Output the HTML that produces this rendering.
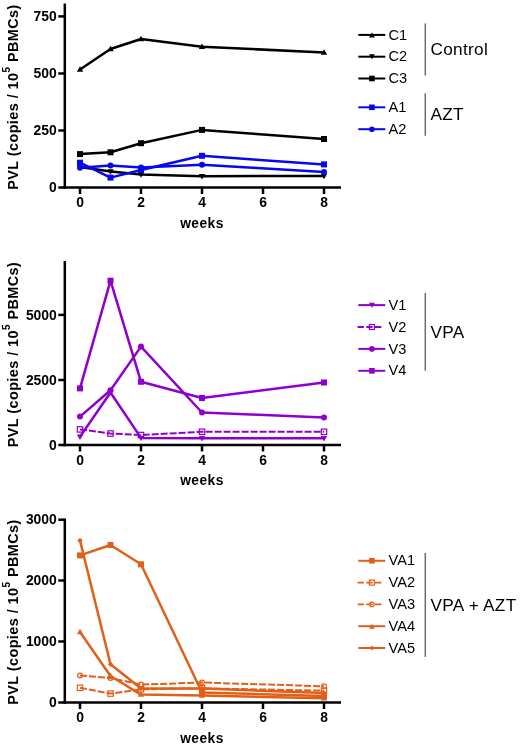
<!DOCTYPE html>
<html><head><meta charset="utf-8"><style>
html,body{margin:0;padding:0;background:#fff;}
body{width:520px;height:745px;overflow:hidden;}
svg{display:block;filter:blur(0.3px);}
text{font-family:"Liberation Sans", sans-serif;fill:#000;}
.tk{font-size:13.9px;font-weight:bold;}
.wk{font-size:13.8px;font-weight:bold;letter-spacing:0.45px;}
.yt{font-size:14.4px;font-weight:bold;letter-spacing:0.45px;}
.sup{font-size:10px;}
.lg{font-size:14.6px;}
.gp{font-size:17.2px;letter-spacing:0.3px;}
</style></head><body>
<svg width="520" height="745" viewBox="0 0 520 745">
<rect width="520" height="745" fill="#fff"/>
<line x1="64.8" y1="3.5" x2="64.8" y2="188.75" stroke="#000" stroke-width="2.5"/>
<line x1="63.55" y1="187.5" x2="341" y2="187.5" stroke="#000" stroke-width="2.5"/>
<line x1="80.0" y1="187.5" x2="80.0" y2="194.0" stroke="#000" stroke-width="2.5"/>
<text x="80.0" y="207.4" class="tk" text-anchor="middle">0</text>
<line x1="141.0" y1="187.5" x2="141.0" y2="194.0" stroke="#000" stroke-width="2.5"/>
<text x="141.0" y="207.4" class="tk" text-anchor="middle">2</text>
<line x1="202.0" y1="187.5" x2="202.0" y2="194.0" stroke="#000" stroke-width="2.5"/>
<text x="202.0" y="207.4" class="tk" text-anchor="middle">4</text>
<line x1="263.0" y1="187.5" x2="263.0" y2="194.0" stroke="#000" stroke-width="2.5"/>
<text x="263.0" y="207.4" class="tk" text-anchor="middle">6</text>
<line x1="324.0" y1="187.5" x2="324.0" y2="194.0" stroke="#000" stroke-width="2.5"/>
<text x="324.0" y="207.4" class="tk" text-anchor="middle">8</text>
<line x1="58.3" y1="16.4" x2="64.8" y2="16.4" stroke="#000" stroke-width="2.5"/>
<text x="56.8" y="21.099999999999998" class="tk" text-anchor="end">750</text>
<line x1="58.3" y1="73.5" x2="64.8" y2="73.5" stroke="#000" stroke-width="2.5"/>
<text x="56.8" y="78.2" class="tk" text-anchor="end">500</text>
<line x1="58.3" y1="130.5" x2="64.8" y2="130.5" stroke="#000" stroke-width="2.5"/>
<text x="56.8" y="135.2" class="tk" text-anchor="end">250</text>
<line x1="58.3" y1="187.5" x2="64.8" y2="187.5" stroke="#000" stroke-width="2.5"/>
<text x="56.8" y="192.2" class="tk" text-anchor="end">0</text>
<text x="202" y="227.6" class="wk" text-anchor="middle">weeks</text>
<text transform="translate(17.8,97.0) rotate(-90)" class="yt" text-anchor="middle">PVL (copies / 10<tspan class="sup" dy="-7.5">5</tspan><tspan dy="7.5"> PBMCs)</tspan></text>
<path d="M80.00,167.00 L110.50,171.50 L141.00,174.50 L202.00,176.20 L324.00,176.00" fill="none" stroke="#000000" stroke-width="2.5" stroke-linejoin="round"/>
<path d="M80.00,170.18 L83.18,164.77 L76.82,164.77Z" fill="#000000"/>
<path d="M110.50,174.68 L113.68,169.27 L107.32,169.27Z" fill="#000000"/>
<path d="M141.00,177.68 L144.18,172.27 L137.82,172.27Z" fill="#000000"/>
<path d="M202.00,179.38 L205.18,173.97 L198.82,173.97Z" fill="#000000"/>
<path d="M324.00,179.18 L327.18,173.77 L320.82,173.77Z" fill="#000000"/>
<path d="M80.00,154.10 L110.50,152.30 L141.00,143.20 L202.00,129.90 L324.00,139.00" fill="none" stroke="#000000" stroke-width="2.5" stroke-linejoin="round"/>
<rect x="77.00" y="151.10" width="6.00" height="6.00" fill="#000000"/>
<rect x="107.50" y="149.30" width="6.00" height="6.00" fill="#000000"/>
<rect x="138.00" y="140.20" width="6.00" height="6.00" fill="#000000"/>
<rect x="199.00" y="126.90" width="6.00" height="6.00" fill="#000000"/>
<rect x="321.00" y="136.00" width="6.00" height="6.00" fill="#000000"/>
<path d="M80.00,69.50 L110.50,49.00 L141.00,39.00 L202.00,46.70 L324.00,52.50" fill="none" stroke="#000000" stroke-width="2.5" stroke-linejoin="round"/>
<path d="M80.00,66.32 L83.18,71.73 L76.82,71.73Z" fill="#000000"/>
<path d="M110.50,45.82 L113.68,51.23 L107.32,51.23Z" fill="#000000"/>
<path d="M141.00,35.82 L144.18,41.23 L137.82,41.23Z" fill="#000000"/>
<path d="M202.00,43.52 L205.18,48.93 L198.82,48.93Z" fill="#000000"/>
<path d="M324.00,49.32 L327.18,54.73 L320.82,54.73Z" fill="#000000"/>
<path d="M80.00,162.70 L110.50,177.60 L141.00,170.00 L202.00,155.80 L324.00,164.40" fill="none" stroke="#0808ec" stroke-width="2.5" stroke-linejoin="round"/>
<rect x="77.00" y="159.70" width="6.00" height="6.00" fill="#0808ec"/>
<rect x="107.50" y="174.60" width="6.00" height="6.00" fill="#0808ec"/>
<rect x="138.00" y="167.00" width="6.00" height="6.00" fill="#0808ec"/>
<rect x="199.00" y="152.80" width="6.00" height="6.00" fill="#0808ec"/>
<rect x="321.00" y="161.40" width="6.00" height="6.00" fill="#0808ec"/>
<path d="M80.00,167.70 L110.50,165.60 L141.00,167.60 L202.00,164.70 L324.00,171.90" fill="none" stroke="#0808ec" stroke-width="2.5" stroke-linejoin="round"/>
<circle cx="80.00" cy="167.70" r="3.00" fill="#0808ec"/>
<circle cx="110.50" cy="165.60" r="3.00" fill="#0808ec"/>
<circle cx="141.00" cy="167.60" r="3.00" fill="#0808ec"/>
<circle cx="202.00" cy="164.70" r="3.00" fill="#0808ec"/>
<circle cx="324.00" cy="171.90" r="3.00" fill="#0808ec"/>
<line x1="358.3" y1="34.9" x2="385.3" y2="34.9" stroke="#000000" stroke-width="2.0"/>
<path d="M371.90,32.43 L374.87,37.48 L368.93,37.48Z" fill="#000000"/>
<text x="388.5" y="39.5" class="lg">C1</text>
<line x1="358.3" y1="56.7" x2="385.3" y2="56.7" stroke="#000000" stroke-width="2.0"/>
<path d="M371.90,59.37 L374.87,54.32 L368.93,54.32Z" fill="#000000"/>
<text x="388.5" y="61.300000000000004" class="lg">C2</text>
<line x1="358.3" y1="78.5" x2="385.3" y2="78.5" stroke="#000000" stroke-width="2.0"/>
<rect x="369.10" y="75.70" width="5.60" height="5.60" fill="#000000"/>
<text x="388.5" y="83.1" class="lg">C3</text>
<line x1="425.3" y1="23.4" x2="425.3" y2="75.6" stroke="#6c6c6c" stroke-width="1.5"/>
<text x="430.5" y="55.4" class="gp">Control</text>
<line x1="358.3" y1="107.3" x2="385.3" y2="107.3" stroke="#0808ec" stroke-width="2.0"/>
<rect x="369.10" y="104.50" width="5.60" height="5.60" fill="#0808ec"/>
<text x="388.5" y="111.89999999999999" class="lg">A1</text>
<line x1="358.3" y1="129.2" x2="385.3" y2="129.2" stroke="#0808ec" stroke-width="2.0"/>
<circle cx="371.90" cy="129.20" r="2.80" fill="#0808ec"/>
<text x="388.5" y="133.79999999999998" class="lg">A2</text>
<line x1="425.3" y1="93.3" x2="425.3" y2="135.8" stroke="#6c6c6c" stroke-width="1.5"/>
<text x="430.5" y="120.3" class="gp">AZT</text>
<line x1="64.8" y1="261.0" x2="64.8" y2="446.25" stroke="#000" stroke-width="2.5"/>
<line x1="63.55" y1="445.0" x2="341" y2="445.0" stroke="#000" stroke-width="2.5"/>
<line x1="80.0" y1="445.0" x2="80.0" y2="451.5" stroke="#000" stroke-width="2.5"/>
<text x="80.0" y="464.9" class="tk" text-anchor="middle">0</text>
<line x1="141.0" y1="445.0" x2="141.0" y2="451.5" stroke="#000" stroke-width="2.5"/>
<text x="141.0" y="464.9" class="tk" text-anchor="middle">2</text>
<line x1="202.0" y1="445.0" x2="202.0" y2="451.5" stroke="#000" stroke-width="2.5"/>
<text x="202.0" y="464.9" class="tk" text-anchor="middle">4</text>
<line x1="263.0" y1="445.0" x2="263.0" y2="451.5" stroke="#000" stroke-width="2.5"/>
<text x="263.0" y="464.9" class="tk" text-anchor="middle">6</text>
<line x1="324.0" y1="445.0" x2="324.0" y2="451.5" stroke="#000" stroke-width="2.5"/>
<text x="324.0" y="464.9" class="tk" text-anchor="middle">8</text>
<line x1="58.3" y1="314.9" x2="64.8" y2="314.9" stroke="#000" stroke-width="2.5"/>
<text x="56.8" y="319.59999999999997" class="tk" text-anchor="end">5000</text>
<line x1="58.3" y1="380.0" x2="64.8" y2="380.0" stroke="#000" stroke-width="2.5"/>
<text x="56.8" y="384.7" class="tk" text-anchor="end">2500</text>
<line x1="58.3" y1="445.0" x2="64.8" y2="445.0" stroke="#000" stroke-width="2.5"/>
<text x="56.8" y="449.7" class="tk" text-anchor="end">0</text>
<text x="202" y="485.1" class="wk" text-anchor="middle">weeks</text>
<text transform="translate(17.8,354.5) rotate(-90)" class="yt" text-anchor="middle">PVL (copies / 10<tspan class="sup" dy="-7.5">5</tspan><tspan dy="7.5"> PBMCs)</tspan></text>
<path d="M80.00,436.70 L110.50,392.50 L141.00,437.90 L202.00,438.20 L324.00,438.20" fill="none" stroke="#9000cc" stroke-width="2.5" stroke-linejoin="round"/>
<path d="M80.00,439.88 L83.18,434.47 L76.82,434.47Z" fill="#9000cc"/>
<path d="M110.50,395.68 L113.68,390.27 L107.32,390.27Z" fill="#9000cc"/>
<path d="M141.00,441.08 L144.18,435.67 L137.82,435.67Z" fill="#9000cc"/>
<path d="M202.00,441.38 L205.18,435.97 L198.82,435.97Z" fill="#9000cc"/>
<path d="M324.00,441.38 L327.18,435.97 L320.82,435.97Z" fill="#9000cc"/>
<path d="M80.00,429.40 L110.50,433.50 L141.00,435.00 L202.00,431.80 L324.00,431.80" fill="none" stroke="#9000cc" stroke-width="2.0" stroke-linejoin="round" stroke-dasharray="7,2"/>
<rect x="77.30" y="426.70" width="5.40" height="5.40" fill="none" stroke="#9000cc" stroke-width="1.2"/>
<rect x="107.80" y="430.80" width="5.40" height="5.40" fill="none" stroke="#9000cc" stroke-width="1.2"/>
<rect x="138.30" y="432.30" width="5.40" height="5.40" fill="none" stroke="#9000cc" stroke-width="1.2"/>
<rect x="199.30" y="429.10" width="5.40" height="5.40" fill="none" stroke="#9000cc" stroke-width="1.2"/>
<rect x="321.30" y="429.10" width="5.40" height="5.40" fill="none" stroke="#9000cc" stroke-width="1.2"/>
<path d="M80.00,416.60 L110.50,390.30 L141.00,346.60 L202.00,412.50 L324.00,417.50" fill="none" stroke="#9000cc" stroke-width="2.5" stroke-linejoin="round"/>
<circle cx="80.00" cy="416.60" r="3.00" fill="#9000cc"/>
<circle cx="110.50" cy="390.30" r="3.00" fill="#9000cc"/>
<circle cx="141.00" cy="346.60" r="3.00" fill="#9000cc"/>
<circle cx="202.00" cy="412.50" r="3.00" fill="#9000cc"/>
<circle cx="324.00" cy="417.50" r="3.00" fill="#9000cc"/>
<path d="M80.00,388.40 L110.50,280.70 L141.00,381.80 L202.00,398.00 L324.00,382.50" fill="none" stroke="#9000cc" stroke-width="2.5" stroke-linejoin="round"/>
<rect x="77.00" y="385.40" width="6.00" height="6.00" fill="#9000cc"/>
<rect x="107.50" y="277.70" width="6.00" height="6.00" fill="#9000cc"/>
<rect x="138.00" y="378.80" width="6.00" height="6.00" fill="#9000cc"/>
<rect x="199.00" y="395.00" width="6.00" height="6.00" fill="#9000cc"/>
<rect x="321.00" y="379.50" width="6.00" height="6.00" fill="#9000cc"/>
<line x1="358.3" y1="305.1" x2="385.3" y2="305.1" stroke="#9000cc" stroke-width="2.0"/>
<path d="M371.90,307.77 L374.87,302.72 L368.93,302.72Z" fill="#9000cc"/>
<text x="388.5" y="309.70000000000005" class="lg">V1</text>
<path d="M357.6,327.0 L382.6,327.0" stroke="#9000cc" stroke-width="1.8" stroke-dasharray="6.3,2.4"/>
<rect x="369.40" y="324.50" width="5.00" height="5.00" fill="none" stroke="#9000cc" stroke-width="1.2"/>
<text x="388.5" y="331.6" class="lg">V2</text>
<line x1="358.3" y1="348.90000000000003" x2="385.3" y2="348.90000000000003" stroke="#9000cc" stroke-width="2.0"/>
<circle cx="371.90" cy="348.90" r="2.80" fill="#9000cc"/>
<text x="388.5" y="353.50000000000006" class="lg">V3</text>
<line x1="358.3" y1="370.8" x2="385.3" y2="370.8" stroke="#9000cc" stroke-width="2.0"/>
<rect x="369.10" y="368.00" width="5.60" height="5.60" fill="#9000cc"/>
<text x="388.5" y="375.40000000000003" class="lg">V4</text>
<line x1="425.3" y1="293" x2="425.3" y2="370.8" stroke="#6c6c6c" stroke-width="1.5"/>
<text x="430.5" y="338.2" class="gp">VPA</text>
<line x1="64.8" y1="518.5" x2="64.8" y2="703.75" stroke="#000" stroke-width="2.5"/>
<line x1="63.55" y1="702.5" x2="341" y2="702.5" stroke="#000" stroke-width="2.5"/>
<line x1="80.0" y1="702.5" x2="80.0" y2="709.0" stroke="#000" stroke-width="2.5"/>
<text x="80.0" y="722.4" class="tk" text-anchor="middle">0</text>
<line x1="141.0" y1="702.5" x2="141.0" y2="709.0" stroke="#000" stroke-width="2.5"/>
<text x="141.0" y="722.4" class="tk" text-anchor="middle">2</text>
<line x1="202.0" y1="702.5" x2="202.0" y2="709.0" stroke="#000" stroke-width="2.5"/>
<text x="202.0" y="722.4" class="tk" text-anchor="middle">4</text>
<line x1="263.0" y1="702.5" x2="263.0" y2="709.0" stroke="#000" stroke-width="2.5"/>
<text x="263.0" y="722.4" class="tk" text-anchor="middle">6</text>
<line x1="324.0" y1="702.5" x2="324.0" y2="709.0" stroke="#000" stroke-width="2.5"/>
<text x="324.0" y="722.4" class="tk" text-anchor="middle">8</text>
<line x1="58.3" y1="519.7" x2="64.8" y2="519.7" stroke="#000" stroke-width="2.5"/>
<text x="56.8" y="524.4000000000001" class="tk" text-anchor="end">3000</text>
<line x1="58.3" y1="580.5" x2="64.8" y2="580.5" stroke="#000" stroke-width="2.5"/>
<text x="56.8" y="585.2" class="tk" text-anchor="end">2000</text>
<line x1="58.3" y1="641.5" x2="64.8" y2="641.5" stroke="#000" stroke-width="2.5"/>
<text x="56.8" y="646.2" class="tk" text-anchor="end">1000</text>
<line x1="58.3" y1="702.5" x2="64.8" y2="702.5" stroke="#000" stroke-width="2.5"/>
<text x="56.8" y="707.2" class="tk" text-anchor="end">0</text>
<text x="202" y="742.6" class="wk" text-anchor="middle">weeks</text>
<text transform="translate(17.8,612.0) rotate(-90)" class="yt" text-anchor="middle">PVL (copies / 10<tspan class="sup" dy="-7.5">5</tspan><tspan dy="7.5"> PBMCs)</tspan></text>
<path d="M80.00,687.80 L110.50,693.60 L141.00,689.30 L202.00,688.30 L324.00,690.70" fill="none" stroke="#e0601a" stroke-width="2.0" stroke-linejoin="round" stroke-dasharray="7,2"/>
<rect x="77.30" y="685.10" width="5.40" height="5.40" fill="none" stroke="#e0601a" stroke-width="1.2"/>
<rect x="107.80" y="690.90" width="5.40" height="5.40" fill="none" stroke="#e0601a" stroke-width="1.2"/>
<rect x="138.30" y="686.60" width="5.40" height="5.40" fill="none" stroke="#e0601a" stroke-width="1.2"/>
<rect x="199.30" y="685.60" width="5.40" height="5.40" fill="none" stroke="#e0601a" stroke-width="1.2"/>
<rect x="321.30" y="688.00" width="5.40" height="5.40" fill="none" stroke="#e0601a" stroke-width="1.2"/>
<path d="M80.00,675.50 L110.50,678.00 L141.00,684.60 L202.00,682.50 L324.00,686.30" fill="none" stroke="#e0601a" stroke-width="2.0" stroke-linejoin="round" stroke-dasharray="7,2"/>
<circle cx="80.00" cy="675.50" r="2.40" fill="none" stroke="#e0601a" stroke-width="1.2"/>
<circle cx="110.50" cy="678.00" r="2.40" fill="none" stroke="#e0601a" stroke-width="1.2"/>
<circle cx="141.00" cy="684.60" r="2.40" fill="none" stroke="#e0601a" stroke-width="1.2"/>
<circle cx="202.00" cy="682.50" r="2.40" fill="none" stroke="#e0601a" stroke-width="1.2"/>
<circle cx="324.00" cy="686.30" r="2.40" fill="none" stroke="#e0601a" stroke-width="1.2"/>
<path d="M80.00,632.00 L110.50,676.00 L141.00,694.60 L202.00,695.50 L324.00,698.30" fill="none" stroke="#e0601a" stroke-width="2.5" stroke-linejoin="round"/>
<path d="M80.00,628.82 L83.18,634.23 L76.82,634.23Z" fill="#e0601a"/>
<path d="M110.50,672.82 L113.68,678.23 L107.32,678.23Z" fill="#e0601a"/>
<path d="M141.00,691.42 L144.18,696.83 L137.82,696.83Z" fill="#e0601a"/>
<path d="M202.00,692.32 L205.18,697.73 L198.82,697.73Z" fill="#e0601a"/>
<path d="M324.00,695.12 L327.18,700.53 L320.82,700.53Z" fill="#e0601a"/>
<path d="M80.00,540.40 L110.50,664.20 L141.00,688.60 L202.00,688.60 L324.00,693.00" fill="none" stroke="#e0601a" stroke-width="2.5" stroke-linejoin="round"/>
<path d="M80.00,537.64 L82.76,540.40 L80.00,543.16 L77.24,540.40Z" fill="#e0601a"/>
<path d="M110.50,661.44 L113.26,664.20 L110.50,666.96 L107.74,664.20Z" fill="#e0601a"/>
<path d="M141.00,685.84 L143.76,688.60 L141.00,691.36 L138.24,688.60Z" fill="#e0601a"/>
<path d="M202.00,685.84 L204.76,688.60 L202.00,691.36 L199.24,688.60Z" fill="#e0601a"/>
<path d="M324.00,690.24 L326.76,693.00 L324.00,695.76 L321.24,693.00Z" fill="#e0601a"/>
<path d="M80.00,555.40 L110.50,545.00 L141.00,564.30 L202.00,692.50 L324.00,696.00" fill="none" stroke="#e0601a" stroke-width="2.5" stroke-linejoin="round"/>
<rect x="77.00" y="552.40" width="6.00" height="6.00" fill="#e0601a"/>
<rect x="107.50" y="542.00" width="6.00" height="6.00" fill="#e0601a"/>
<rect x="138.00" y="561.30" width="6.00" height="6.00" fill="#e0601a"/>
<rect x="199.00" y="689.50" width="6.00" height="6.00" fill="#e0601a"/>
<rect x="321.00" y="693.00" width="6.00" height="6.00" fill="#e0601a"/>
<line x1="358.3" y1="560.8" x2="385.3" y2="560.8" stroke="#e0601a" stroke-width="2.0"/>
<rect x="369.10" y="558.00" width="5.60" height="5.60" fill="#e0601a"/>
<text x="388.5" y="565.4" class="lg">VA1</text>
<path d="M357.6,582.5999999999999 L382.6,582.5999999999999" stroke="#e0601a" stroke-width="1.8" stroke-dasharray="6.3,2.4"/>
<rect x="369.40" y="580.10" width="5.00" height="5.00" fill="none" stroke="#e0601a" stroke-width="1.2"/>
<text x="388.5" y="587.1999999999999" class="lg">VA2</text>
<path d="M357.6,604.4 L382.6,604.4" stroke="#e0601a" stroke-width="1.8" stroke-dasharray="6.3,2.4"/>
<circle cx="371.90" cy="604.40" r="2.20" fill="none" stroke="#e0601a" stroke-width="1.2"/>
<text x="388.5" y="609.0" class="lg">VA3</text>
<line x1="358.3" y1="626.1999999999999" x2="385.3" y2="626.1999999999999" stroke="#e0601a" stroke-width="2.0"/>
<path d="M371.90,623.73 L374.87,628.78 L368.93,628.78Z" fill="#e0601a"/>
<text x="388.5" y="630.8" class="lg">VA4</text>
<line x1="358.3" y1="648.0" x2="385.3" y2="648.0" stroke="#e0601a" stroke-width="2.0"/>
<path d="M371.90,645.42 L374.48,648.00 L371.90,650.58 L369.32,648.00Z" fill="#e0601a"/>
<text x="388.5" y="652.6" class="lg">VA5</text>
<line x1="425.3" y1="553.0" x2="425.3" y2="656.9" stroke="#6c6c6c" stroke-width="1.5"/>
<text x="430.5" y="611.0" class="gp">VPA + AZT</text>
</svg>
</body></html>
